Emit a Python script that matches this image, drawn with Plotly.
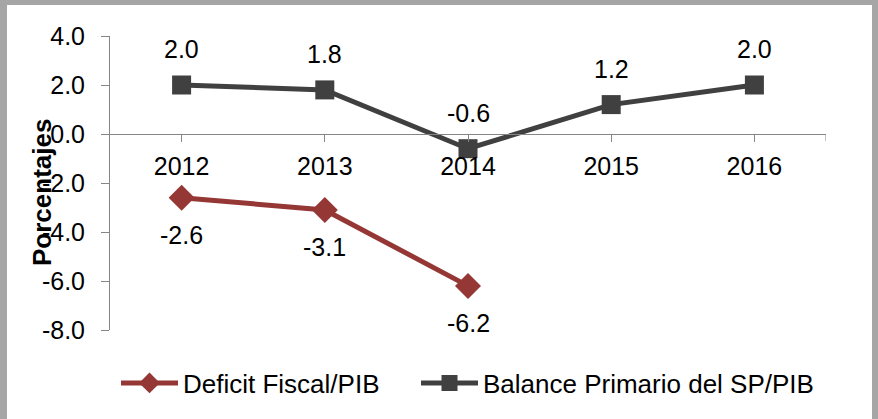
import plotly.graph_objects as go

YEARS = ["2012", "2013", "2014", "2015", "2016"]
DEFICIT = [-2.6, -3.1, -6.2, None, None]
BALANCE = [2.0, 1.8, -0.6, 1.2, 2.0]
Y_TICKS = [4, 2, 0, -2, -4, -6, -8]

RED = "#953735"
DARK = "#404040"
AXIS = "#868686"
FONT = "Liberation Sans, Arial, sans-serif"

# plot area in pixels, used to place frame pieces in paper coords
L, R, T, B = 110, 52, 36, 89
W, H = 878 - L - R, 419 - T - B


def px_x(x):
    return (x - L) / W


def px_y(y):
    return (419 - B - y) / H


xs = list(range(len(YEARS)))

fig = go.Figure()

fig.add_trace(
    go.Scatter(
        x=xs,
        y=DEFICIT,
        mode="lines+markers",
        name="Deficit Fiscal/PIB",
        line=dict(color=RED, width=5),
        marker=dict(symbol="diamond", size=20, color=RED),
        legend="legend",
    )
)
fig.add_trace(
    go.Scatter(
        x=xs,
        y=BALANCE,
        mode="lines+markers",
        name="Balance Primario del SP/PIB",
        line=dict(color=DARK, width=5),
        marker=dict(symbol="square", size=19, color=DARK),
        legend="legend2",
    )
)

# data labels: balance above, deficit below
for i, v in zip(xs, BALANCE):
    fig.add_annotation(x=i, y=v, xref="x", yref="y", text=f"{v:.1f}",
                       showarrow=False, yshift=36,
                       font=dict(size=25, color="black", family=FONT))
for i, v in zip(xs, DEFICIT):
    if v is None:
        continue
    fig.add_annotation(x=i, y=v, xref="x", yref="y", text=f"{v:.1f}",
                       showarrow=False, yshift=-37,
                       font=dict(size=25, color="black", family=FONT))

# y axis title
fig.add_annotation(
    text="<b>Porcentajes</b>", textangle=-90, showarrow=False,
    xref="paper", yref="paper", x=px_x(42), y=px_y(193),
    xanchor="center", yanchor="middle",
    font=dict(size=26, color="black", family=FONT),
)

shapes = [
    # end tick of the category axis
    dict(type="line", xref="x", yref="y", x0=4.5, x1=4.5, y0=0, y1=-0.29,
         line=dict(color=AXIS, width=1)),
    # outer frame / shadow
    dict(type="rect", xref="paper", yref="paper", x0=px_x(0), x1=px_x(7),
         y0=px_y(419), y1=px_y(0), fillcolor="#a6a6a6", line=dict(width=0), layer="below"),
    dict(type="rect", xref="paper", yref="paper", x0=px_x(0), x1=px_x(878),
         y0=px_y(5), y1=px_y(0), fillcolor="#a6a6a6", line=dict(width=0), layer="below"),
    dict(type="rect", xref="paper", yref="paper", x0=px_x(872), x1=px_x(878),
         y0=px_y(419), y1=px_y(0), fillcolor="#a6a6a6", line=dict(width=0), layer="below"),
]

legend_style = dict(
    orientation="h",
    y=px_y(383),
    xanchor="left",
    yanchor="middle",
    font=dict(size=26),
    itemwidth=57,
    bgcolor="rgba(0,0,0,0)",
)

fig.update_layout(
    width=878,
    height=419,
    margin=dict(l=L, r=R, t=T, b=B),
    paper_bgcolor="white",
    plot_bgcolor="white",
    font=dict(family=FONT, size=25, color="black"),
    showlegend=True,
    legend=dict(legend_style, x=px_x(116)),
    legend2=dict(legend_style, x=px_x(416)),
    xaxis=dict(
        range=[-0.5, 4.5],
        tickvals=xs,
        ticktext=YEARS,
        anchor="free",
        position=8 / 12,
        showline=True,
        linecolor=AXIS,
        linewidth=1,
        ticks="outside",
        ticklen=7,
        tickcolor=AXIS,
        showgrid=False,
        zeroline=False,
        ticklabelstandoff=3,
        tickfont=dict(size=25),
    ),
    yaxis=dict(
        range=[-8, 4],
        tickvals=Y_TICKS,
        ticktext=[f"{v:.1f}" for v in Y_TICKS],
        showline=True,
        linecolor=AXIS,
        linewidth=1,
        ticks="outside",
        ticklen=8,
        tickcolor=AXIS,
        showgrid=False,
        zeroline=False,
        ticklabelstandoff=11,
        tickfont=dict(size=25),
    ),
    shapes=shapes,
)

fig.write_html(
    "out.html",
    config={"displayModeBar": False},
    post_script="document.body.style.margin='0';",
)
